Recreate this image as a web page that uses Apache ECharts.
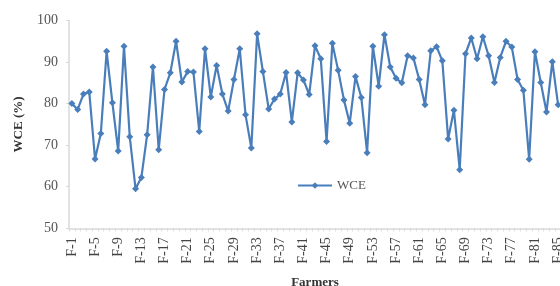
<!DOCTYPE html>
<html>
<head>
<meta charset="utf-8">
<script src="https://cdn.jsdelivr.net/npm/echarts@6/dist/echarts.min.js"></script>
<style>
  html, body { margin: 0; padding: 0; background: #fff; }
  #chart { width: 560px; height: 286px; }
</style>
</head>
<body>
<div id="chart"></div>
<script>
// farmers F-1 .. F-85
var farmers = [];
for (var i = 1; i <= 85; i++) farmers.push('F-' + i);

var wceValues = [
  80.0, 78.6, 82.3, 82.8, 66.7, 72.8, 92.6, 80.2, 68.6, 93.8,
  72.0, 59.5, 62.2, 72.5, 88.8, 68.9, 83.4, 87.4, 95.0, 85.2,
  87.7, 87.6, 73.3, 93.2, 81.6, 89.2, 82.3, 78.2, 85.8, 93.2,
  77.3, 69.3, 96.8, 87.7, 78.7, 81.1, 82.3, 87.5, 75.6, 87.4,
  85.7, 82.2, 93.9, 90.8, 70.9, 94.5, 88.0, 80.9, 75.3, 86.5,
  81.5, 68.2, 93.8, 84.2, 96.6, 88.8, 86.1, 85.0, 91.5, 91.0,
  85.8, 79.7, 92.7, 93.7, 90.3, 71.5, 78.4, 64.1, 92.0, 95.8,
  90.8, 96.1, 91.5, 85.1, 91.1, 95.0, 93.6, 85.8, 83.2, 66.6,
  92.5, 85.1, 78.0, 90.1, 79.7
];

var yTicks = { min: 50, max: 100, step: 10 };

var serif = '"Liberation Serif", "DejaVu Serif", serif';

option = {
  backgroundColor: '#FFFFFF',
  animation: false,
  legend: {
    left: 292,
    top: 174,
    itemWidth: 34,
    itemHeight: 8,
    itemGap: 4,
    textStyle: { fontFamily: serif, fontSize: 13, color: '#555' },
    data: ['WCE']
  },
  grid: {
    left: 69,
    right: -1,
    top: 20.5,
    bottom: 57.7,
    outerBoundsMode: 'none',
    containLabel: false
  },
  xAxis: {
    type: 'category',
    data: farmers,
    boundaryGap: true,
    name: 'Farmers',
    nameLocation: 'middle',
    nameGap: 48,
    nameTextStyle: { fontFamily: serif, fontSize: 13, fontWeight: 'bold', color: '#333' },
    axisLine: { lineStyle: { color: '#d9d9d9', width: 1.5 } },
    axisTick: { show: true, interval: 0, length: 3, lineStyle: { color: '#d9d9d9' } },
    axisLabel: {
      interval: 3,
      rotate: 90,
      margin: 9,
      fontFamily: serif,
      fontSize: 14,
      color: '#444'
    },
    splitLine: { show: false }
  },
  yAxis: {
    type: 'value',
    min: yTicks.min,
    max: yTicks.max,
    interval: yTicks.step,
    name: 'WCE (%)',
    nameLocation: 'middle',
    nameGap: 44,
    nameTextStyle: { fontFamily: serif, fontSize: 13, fontWeight: 'bold', color: '#333' },
    axisLine: { show: true, lineStyle: { color: '#d9d9d9', width: 1.5 } },
    axisTick: { show: true, length: 3, lineStyle: { color: '#d9d9d9' } },
    axisLabel: { margin: 11, fontFamily: serif, fontSize: 14, color: '#555' },
    splitLine: { show: false }
  },
  series: [{
    name: 'WCE',
    type: 'line',
    data: wceValues,
    symbol: 'diamond',
    symbolSize: 7,
    showAllSymbol: true,
    lineStyle: { color: '#4a7ebb', width: 2.2 },
    itemStyle: { color: '#4a7ebb' }
  }]
};

myChart = echarts.init(document.getElementById('chart'));
myChart.setOption(option);
</script>
</body>
</html>
